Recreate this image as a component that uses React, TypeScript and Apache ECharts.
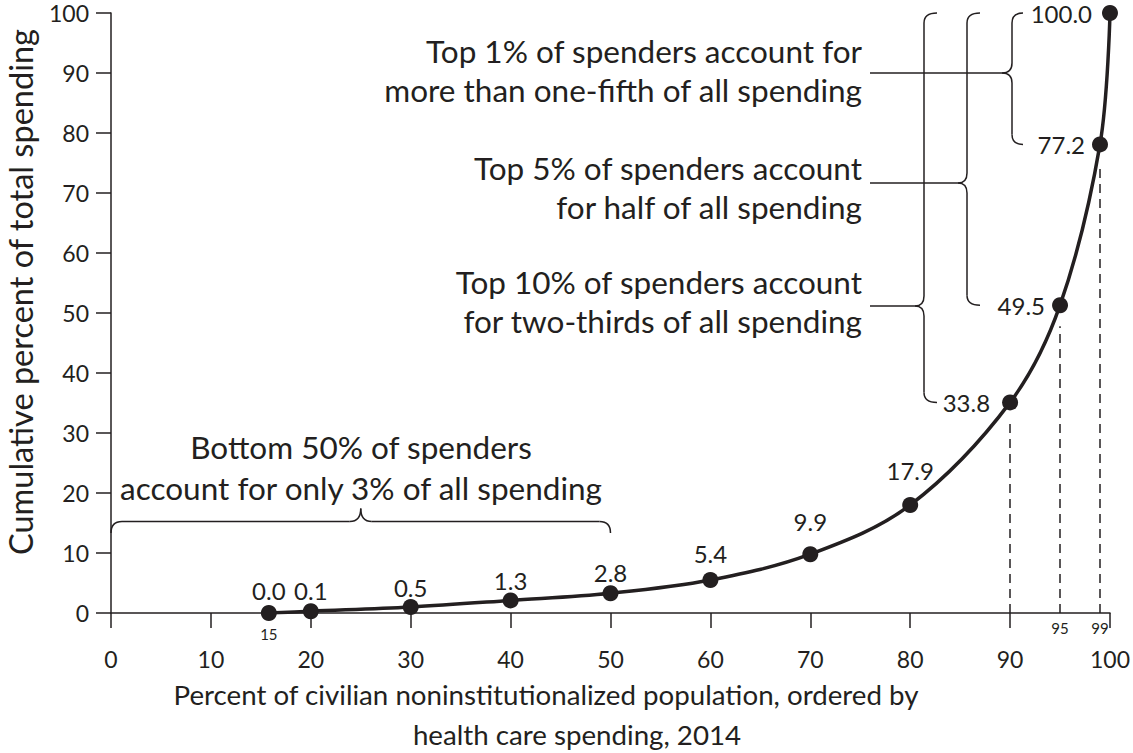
import React, { useEffect, useRef } from "react";
import * as echarts from "echarts";

// ---- data ----
const popPct = [15.8, 20, 30, 40, 50, 60, 70, 80, 90, 95, 99, 100];
const cumShare = [0, 0.3, 1.0, 2.1, 3.3, 5.5, 9.8, 18.0, 35.1, 51.3, 78.1, 100];
const cumShareLabels = ["0.0", "0.1", "0.5", "1.3", "2.8", "5.4", "9.9", "17.9", "33.8", "49.5", "77.2", "100.0"];
const labelSide = ["top", "top", "top", "top", "top", "top", "top", "top", "left", "left", "left", "left"];
const labelGap = [3, 1, 0, 0, 1, 7, 13, 15, 12, 7, 7, 10];
const dashedAt = [90, 95, 99];
const smallTickLabels = [
  { x: 15.8, text: "15" },
  { x: 95, text: "95" },
  { x: 99, text: "99" },
];

const INK = "#231f20";
const FONT = "Lato";

export default function App() {
  const ref = useRef<HTMLDivElement>(null);
  useEffect(() => {
    if (!ref.current) return;
    const chart = echarts.init(ref.current, null, { renderer: "svg" });
    const seriesData = popPct.map((x, i) => ({
      value: [x, cumShare[i]],
      label: {
        show: true,
        position: labelSide[i],
        distance: labelGap[i],
        formatter: cumShareLabels[i],
      },
    }));
    const dashData = dashedAt.map((x) => {
      const idx = popPct.indexOf(x);
      return [{ coord: [x, 0] }, { coord: [x, cumShare[idx] - 3.5] }];
    });
    chart.setOption({
      animation: false,
      grid: { left: 111, right: 22, top: 13, bottom: 140, containLabel: false },
      xAxis: {
        type: "value",
        min: 0,
        max: 100,
        interval: 10,
        axisLine: { show: true, lineStyle: { color: INK, width: 1.5 } },
        axisTick: { show: true, length: 15, lineStyle: { color: INK, width: 1.5 } },
        axisLabel: { color: INK, fontSize: 23, fontFamily: FONT, margin: 34 },
        splitLine: { show: false },
      },
      yAxis: {
        type: "value",
        min: 0,
        max: 100,
        interval: 10,
        axisLine: { show: true, lineStyle: { color: INK, width: 1.5 } },
        axisTick: { show: true, length: 15, lineStyle: { color: INK, width: 1.5 } },
        axisLabel: { color: INK, fontSize: 23, fontFamily: FONT, margin: 22 },
        splitLine: { show: false },
      },
      series: [
        {
          type: "line",
          data: seriesData,
          smooth: 0.35,
          symbol: "circle",
          symbolSize: 16,
          itemStyle: { color: INK },
          lineStyle: { color: INK, width: 3.5 },
          label: { color: INK, fontSize: 24, fontFamily: FONT },
          markLine: {
            silent: true,
            symbol: "none",
            label: { show: false },
            lineStyle: { color: INK, width: 1.5, type: [9, 6] },
            data: dashData,
          },
          z: 5,
        },
      ],
    });

    const px = (x: number, y: number) => chart.convertToPixel({ gridIndex: 0 }, [x, y]) as number[];
    const lineStyle = { stroke: INK, lineWidth: 1.5, fill: null };
    const els: any[] = [];
    const seg = (x1: number, y1: number, x2: number, y2: number) =>
      els.push({ type: "line", shape: { x1, y1, x2, y2 }, style: lineStyle, silent: true });
    const q = (x1: number, y1: number, cx: number, cy: number, x2: number, y2: number) =>
      els.push({ type: "bezierCurve", shape: { x1, y1, x2, y2, cpx1: cx, cpy1: cy }, style: lineStyle, silent: true });

    // vertical "{" brace
    const vBrace = (xv: number, yTop: number, yBot: number, yMid: number, xEnd: number, xTip: number, r: number) => {
      q(xEnd, yTop, xv, yTop, xv, yTop + r);
      seg(xv, yTop + r, xv, yMid - r);
      q(xv, yMid - r, xv, yMid, xTip, yMid);
      q(xTip, yMid, xv, yMid, xv, yMid + r);
      seg(xv, yMid + r, xv, yBot - r);
      q(xv, yBot - r, xv, yBot, xEnd, yBot);
    };

    const top = px(100, 100)[1];
    const y99 = px(99, cumShare[10])[1];
    const y95 = px(95, cumShare[9])[1];
    const y90 = px(90, cumShare[8])[1];
    vBrace(1012, top, y99, 73, 1023, 1002, 10);
    vBrace(967, top, y95, 183, 980, 958, 10);
    vBrace(924, top, y90, 306, 937, 915, 10);
    seg(870, 73, 1002, 73);
    seg(870, 183, 958, 183);
    seg(870, 306, 915, 306);

    // horizontal brace for bottom 50%
    const [bx0] = px(0, 0);
    const [bx1] = px(50, 0);
    const bxm = (bx0 + bx1) / 2;
    const by = 521.5;
    const r = 11;
    q(bx0, 533, bx0, by, bx0 + r, by);
    seg(bx0 + r, by, bxm - r, by);
    q(bxm - r, by, bxm, by, bxm, by - 13);
    q(bxm, by - 13, bxm, by, bxm + r, by);
    seg(bxm + r, by, bx1 - r, by);
    q(bx1 - r, by, bx1, by, bx1, 533);

    const txt = (x: number, y: number, text: string, size: number, align: string, extra: any = {}) =>
      els.push({
        type: "text",
        x,
        y,
        silent: true,
        ...extra,
        style: { text, fill: INK, font: `${size}px ${FONT}`, align, verticalAlign: "middle" },
      });

    const aSize = 31.5;
    txt(862, 51, "Top 1% of spenders account for", aSize, "right");
    txt(862, 90, "more than one-fifth of all spending", aSize, "right");
    txt(862, 168, "Top 5% of spenders account", aSize, "right");
    txt(862, 207, "for half of all spending", aSize, "right");
    txt(862, 282, "Top 10% of spenders account", aSize, "right");
    txt(862, 321, "for two-thirds of all spending", aSize, "right");
    txt(361, 447, "Bottom 50% of spenders", aSize, "center");
    txt(361, 488, "account for only 3% of all spending", aSize, "center");

    // small tick labels
    smallTickLabels.forEach((s) => {
      const [sx] = px(s.x, 0);
      txt(sx, s.x < 50 ? 634 : 628, s.text, 15, "center");
    });

    // axis titles
    txt(546, 694, "Percent of civilian noninstitutionalized population, ordered by", 27.7, "center");
    txt(577, 734, "health care spending, 2014", 27.7, "center");
    txt(20, 292, "Cumulative percent of total spending", 32.5, "center", { rotation: Math.PI / 2 });

    chart.setOption({ graphic: { elements: els } });
    return () => chart.dispose();
  }, []);
  return <div ref={ref} style={{ position: "absolute", left: 0, top: 0, width: 1133, height: 753, background: "#fff" }} />;
}
